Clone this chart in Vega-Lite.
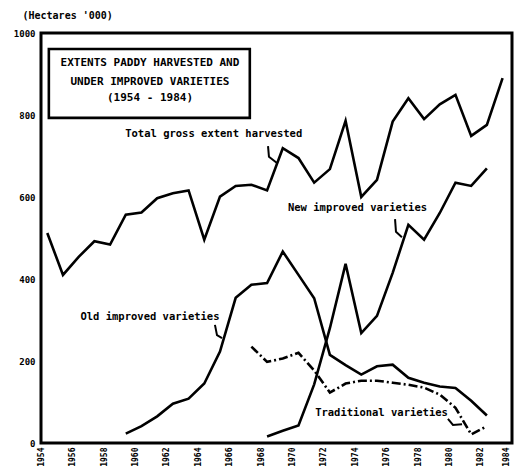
{
  "$schema": "https://vega.github.io/schema/vega-lite/v6.json",
  "width": 471,
  "height": 410,
  "autosize": {"type": "none"},
  "padding": {"left": 41, "top": 33, "right": 9, "bottom": 28},
  "background": "white",
  "config": {
    "view": {"stroke": "black", "strokeWidth": 3},
    "font": "DejaVu Sans Mono"
  },
  "datasets": {
    "series": [
      {"year": 1954, "series": "Total", "value": 512},
      {"year": 1955, "series": "Total", "value": 410},
      {"year": 1956, "series": "Total", "value": 454},
      {"year": 1957, "series": "Total", "value": 492},
      {"year": 1958, "series": "Total", "value": 484},
      {"year": 1959, "series": "Total", "value": 557},
      {"year": 1960, "series": "Total", "value": 562},
      {"year": 1961, "series": "Total", "value": 597},
      {"year": 1962, "series": "Total", "value": 609},
      {"year": 1963, "series": "Total", "value": 616},
      {"year": 1964, "series": "Total", "value": 496},
      {"year": 1965, "series": "Total", "value": 601},
      {"year": 1966, "series": "Total", "value": 627},
      {"year": 1967, "series": "Total", "value": 630},
      {"year": 1968, "series": "Total", "value": 616},
      {"year": 1969, "series": "Total", "value": 719},
      {"year": 1970, "series": "Total", "value": 695},
      {"year": 1971, "series": "Total", "value": 635},
      {"year": 1972, "series": "Total", "value": 668},
      {"year": 1973, "series": "Total", "value": 786},
      {"year": 1974, "series": "Total", "value": 600},
      {"year": 1975, "series": "Total", "value": 642},
      {"year": 1976, "series": "Total", "value": 784},
      {"year": 1977, "series": "Total", "value": 841},
      {"year": 1978, "series": "Total", "value": 790},
      {"year": 1979, "series": "Total", "value": 826},
      {"year": 1980, "series": "Total", "value": 849},
      {"year": 1981, "series": "Total", "value": 749},
      {"year": 1982, "series": "Total", "value": 776},
      {"year": 1983, "series": "Total", "value": 890},
      {"year": 1959, "series": "Old", "value": 23},
      {"year": 1960, "series": "Old", "value": 41},
      {"year": 1961, "series": "Old", "value": 65},
      {"year": 1962, "series": "Old", "value": 96},
      {"year": 1963, "series": "Old", "value": 108},
      {"year": 1964, "series": "Old", "value": 145},
      {"year": 1965, "series": "Old", "value": 223},
      {"year": 1966, "series": "Old", "value": 354},
      {"year": 1967, "series": "Old", "value": 386},
      {"year": 1968, "series": "Old", "value": 390},
      {"year": 1969, "series": "Old", "value": 467},
      {"year": 1970, "series": "Old", "value": 410},
      {"year": 1971, "series": "Old", "value": 353},
      {"year": 1972, "series": "Old", "value": 215},
      {"year": 1973, "series": "Old", "value": 190},
      {"year": 1974, "series": "Old", "value": 167},
      {"year": 1975, "series": "Old", "value": 187},
      {"year": 1976, "series": "Old", "value": 191},
      {"year": 1977, "series": "Old", "value": 159},
      {"year": 1978, "series": "Old", "value": 147},
      {"year": 1979, "series": "Old", "value": 138},
      {"year": 1980, "series": "Old", "value": 134},
      {"year": 1981, "series": "Old", "value": 103},
      {"year": 1982, "series": "Old", "value": 67},
      {"year": 1968, "series": "New", "value": 16},
      {"year": 1969, "series": "New", "value": 30},
      {"year": 1970, "series": "New", "value": 43},
      {"year": 1971, "series": "New", "value": 143},
      {"year": 1972, "series": "New", "value": 280},
      {"year": 1973, "series": "New", "value": 437},
      {"year": 1974, "series": "New", "value": 268},
      {"year": 1975, "series": "New", "value": 310},
      {"year": 1976, "series": "New", "value": 415},
      {"year": 1977, "series": "New", "value": 532},
      {"year": 1978, "series": "New", "value": 496},
      {"year": 1979, "series": "New", "value": 561},
      {"year": 1980, "series": "New", "value": 635},
      {"year": 1981, "series": "New", "value": 627},
      {"year": 1982, "series": "New", "value": 670},
      {"year": 1967, "series": "Traditional", "value": 235},
      {"year": 1968, "series": "Traditional", "value": 198},
      {"year": 1969, "series": "Traditional", "value": 206},
      {"year": 1970, "series": "Traditional", "value": 220},
      {"year": 1971, "series": "Traditional", "value": 177},
      {"year": 1972, "series": "Traditional", "value": 123},
      {"year": 1973, "series": "Traditional", "value": 145},
      {"year": 1974, "series": "Traditional", "value": 152},
      {"year": 1975, "series": "Traditional", "value": 152},
      {"year": 1976, "series": "Traditional", "value": 147},
      {"year": 1977, "series": "Traditional", "value": 142},
      {"year": 1978, "series": "Traditional", "value": 135},
      {"year": 1979, "series": "Traditional", "value": 118},
      {"year": 1980, "series": "Traditional", "value": 86},
      {"year": 1981, "series": "Traditional", "value": 21},
      {"year": 1982, "series": "Traditional", "value": 41}
    ],
    "labels": [
      {"year": 1964.6, "value": 754, "text": "Total gross extent harvested"},
      {"year": 1973.76, "value": 573, "text": "New improved varieties"},
      {"year": 1960.54, "value": 307, "text": "Old improved varieties"},
      {"year": 1975.29, "value": 73, "text": "Traditional varieties"}
    ],
    "titlebox": [
      {"year": 1960.54, "value": 927, "text": "EXTENTS PADDY HARVESTED AND"},
      {"year": 1960.54, "value": 880, "text": "UNDER IMPROVED VARIETIES"},
      {"year": 1960.54, "value": 841, "text": "(1954 - 1984)"}
    ],
    "box": [
      {"year": 1954.1, "year2": 1966.9, "value": 793, "value2": 961}
    ],
    "arrows": [
      {"arrow": "total", "order": 1, "year": 1968.06, "value": 724},
      {"arrow": "total", "order": 2, "year": 1968.12, "value": 698},
      {"arrow": "total", "order": 3, "year": 1968.63, "value": 683},
      {"arrow": "new", "order": 1, "year": 1976.15, "value": 546},
      {"arrow": "new", "order": 2, "year": 1976.21, "value": 515},
      {"arrow": "new", "order": 3, "year": 1976.59, "value": 502},
      {"arrow": "old", "order": 1, "year": 1964.68, "value": 288},
      {"arrow": "old", "order": 2, "year": 1964.81, "value": 263},
      {"arrow": "old", "order": 3, "year": 1965.13, "value": 256},
      {"arrow": "trad", "order": 1, "year": 1979.52, "value": 59},
      {"arrow": "trad", "order": 2, "year": 1979.84, "value": 44},
      {"arrow": "trad", "order": 3, "year": 1980.42, "value": 46}
    ]
  },
  "encoding": {
    "x": {
      "field": "year",
      "type": "quantitative",
      "scale": {"domain": [1953.6, 1983.6], "nice": false, "zero": false, "clamp": true},
      "axis": {
        "values": [1954, 1956, 1958, 1960, 1962, 1964, 1966, 1968, 1970, 1972, 1974, 1976, 1978, 1980, 1982, 1984],
        "format": "d",
        "labelAngle": 270,
        "labelFont": "DejaVu Sans Mono",
        "labelFontWeight": "bold",
        "labelFontSize": 8,
        "labelColor": "black",
        "labelOffset": -6,
        "labelPadding": 4,
        "ticks": false,
        "domain": false,
        "grid": false,
        "title": null
      }
    },
    "y": {
      "field": "value",
      "type": "quantitative",
      "scale": {"domain": [0, 1000], "nice": false, "zero": true},
      "axis": {
        "values": [0, 200, 400, 600, 800, 1000],
        "format": "d",
        "labelFont": "DejaVu Sans Mono",
        "labelFontWeight": "bold",
        "labelFontSize": 9,
        "labelColor": "black",
        "labelPadding": 6,
        "ticks": false,
        "domain": false,
        "grid": false,
        "title": "(Hectares '000)",
        "titleAngle": 0,
        "titleAlign": "left",
        "titleBaseline": "middle",
        "titleX": -19,
        "titleY": -18,
        "titleFont": "DejaVu Sans Mono",
        "titleFontWeight": "bold",
        "titleFontSize": 10,
        "titleColor": "black"
      }
    }
  },
  "layer": [
    {
      "data": {"name": "series"},
      "transform": [{"filter": "datum.series !== 'Traditional'"}],
      "mark": {"type": "line", "color": "black", "strokeWidth": 2.6, "strokeJoin": "miter", "clip": true},
      "encoding": {"detail": {"field": "series"}, "order": {"field": "year"}}
    },
    {
      "data": {"name": "series"},
      "transform": [{"filter": "datum.series === 'Traditional'"}],
      "mark": {"type": "line", "color": "black", "strokeWidth": 2.6, "strokeDash": [9, 3, 2, 3], "clip": true},
      "encoding": {"order": {"field": "year"}}
    },
    {
      "data": {"name": "box"},
      "mark": {"type": "rect", "fill": "white", "stroke": "black", "strokeWidth": 2.6},
      "encoding": {"x2": {"field": "year2"}, "y2": {"field": "value2"}}
    },
    {
      "data": {"name": "titlebox"},
      "mark": {"type": "text", "font": "DejaVu Sans Mono", "fontWeight": "bold", "fontSize": 11, "color": "black", "align": "center", "baseline": "middle"},
      "encoding": {"text": {"field": "text"}}
    },
    {
      "data": {"name": "labels"},
      "mark": {"type": "text", "font": "DejaVu Sans Mono", "fontWeight": "bold", "fontSize": 10.5, "color": "black", "align": "center", "baseline": "middle"},
      "encoding": {"text": {"field": "text"}}
    },
    {
      "data": {"name": "arrows"},
      "mark": {"type": "line", "color": "black", "strokeWidth": 2},
      "encoding": {"detail": {"field": "arrow"}, "order": {"field": "order"}}
    }
  ]
}
